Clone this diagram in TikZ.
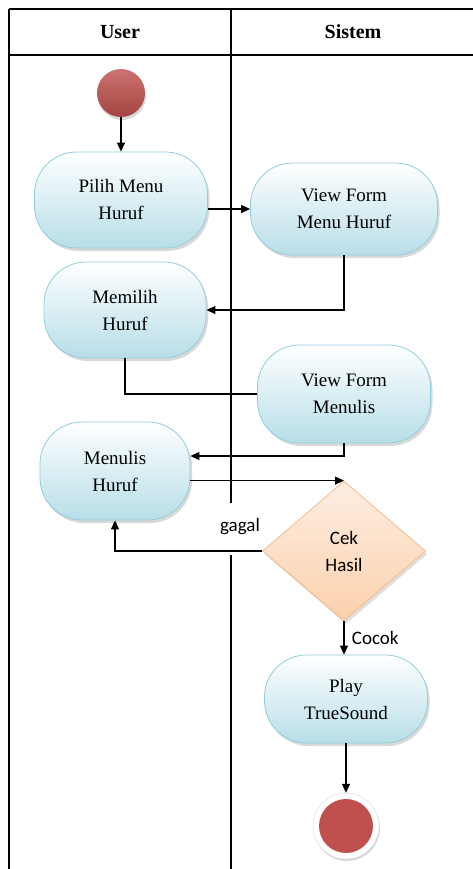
\documentclass[tikz,border=0pt]{standalone}
\usepackage{fontspec}
\setmainfont{Liberation Serif}
\newfontfamily\labelfont{Carlito}
\usepackage{tikz}
\usetikzlibrary{shapes.geometric,shadows,arrows.meta}
\definecolor{actfill}{HTML}{B7DEE8}
\definecolor{actline}{HTML}{92CDDC}
\definecolor{decfill}{HTML}{FBD0AC}
\definecolor{decline}{HTML}{F6B98A}
\definecolor{dotred}{HTML}{C0504D}
\tikzstyle{every picture}=[>={Triangle[length=9pt,width=8pt]}]
\tikzstyle{lane}=[line width=1.2pt]
\tikzstyle{flow}=[line width=1.1pt]
\tikzstyle{activity}=[draw=actline,thick,rectangle,rounded corners=42pt,top color=white,bottom color=actfill,
  minimum height=96pt,align=center,font=\fontsize{19}{27}\selectfont,
  drop shadow={shadow xshift=2pt,shadow yshift=-3pt,opacity=0.3}]
\tikzstyle{decision}=[draw=decline,thick,diamond,inner sep=0pt,minimum width=163pt,minimum height=140pt,
  top color=decfill!35,bottom color=decfill,align=center,font=\labelfont\fontsize{19}{27}\selectfont,
  drop shadow={shadow xshift=2pt,shadow yshift=-3pt,opacity=0.25}]
\tikzstyle{guard}=[font=\labelfont\fontsize{19}{22}\selectfont]

\begin{document}
\begin{tikzpicture}[x=1pt,y=-1pt]
	\useasboundingbox (0,0) rectangle (473,869);
	% swimlanes
	\draw[lane] (9,9) -- (473,9);
	\draw[lane] (9,55) -- (473,55);
	\draw[lane] (9,9) -- (9,869);
	\draw[lane] (231,9) -- (231,503);
	\draw[lane] (231,555) -- (231,869);
	\node(user) at (120,32) {\fontsize{20}{24}\selectfont\bfseries User};
	\node(sistem) at (353,32) {\fontsize{20}{24}\selectfont\bfseries Sistem};

	\node(start)[circle,minimum size=48pt,top color=dotred!80!white,bottom color=dotred!85!black,
	  drop shadow={shadow xshift=1pt,shadow yshift=-3pt,opacity=0.3}] at (121,93) {};
	\node(pilih)[activity,minimum width=173pt] at (121,200) {Pilih Menu\\Huruf};
	\node(viewmenu)[activity,minimum width=187pt,minimum height=92pt] at (344,209) {View Form\\Menu Huruf};
	\node(memilih)[activity,minimum width=162pt] at (125,310) {Memilih\\Huruf};
	\node(viewtulis)[activity,minimum width=173pt,minimum height=98pt] at (344,394) {View Form\\Menulis};
	\node(tulis)[activity,minimum width=150pt,minimum height=98pt] at (115,471) {Menulis\\Huruf};
	\node(cek)[decision] at (344,551) {Cek\\Hasil};
	\node(play)[activity,minimum width=163pt,minimum height=88pt] at (346,699) {Play\\TrueSound};
	\node(end)[circle,minimum size=66pt,fill=white,draw=black!15,
	  drop shadow={shadow xshift=1pt,shadow yshift=-2pt,opacity=0.3}] at (346,826) {};
	\node(endin)[circle,minimum size=54pt,fill=dotred] at (end) {};

	\path[->,flow] (start) edge (pilih)
	               (pilih.east |- viewmenu.west) edge (viewmenu.west)
	               (tulis.east |- cek.north) edge (cek.north)
	               (cek.south) edge node[guard,right=4pt]{Cocok} (cek.south |- play.north)
	               (play.south) edge (end.north);
	\draw[->,flow] (viewmenu.south) |- (memilih.east);
	\draw[flow] (memilih.south) |- (viewtulis.west);
	\draw[->,flow] (viewtulis.south) |- ([yshift=15pt]tulis.east);
	\draw[->,flow] (cek.west) -| (tulis.south);
	\node(gagal)[guard] at (240,527) {gagal};
\end{tikzpicture}
\end{document}
